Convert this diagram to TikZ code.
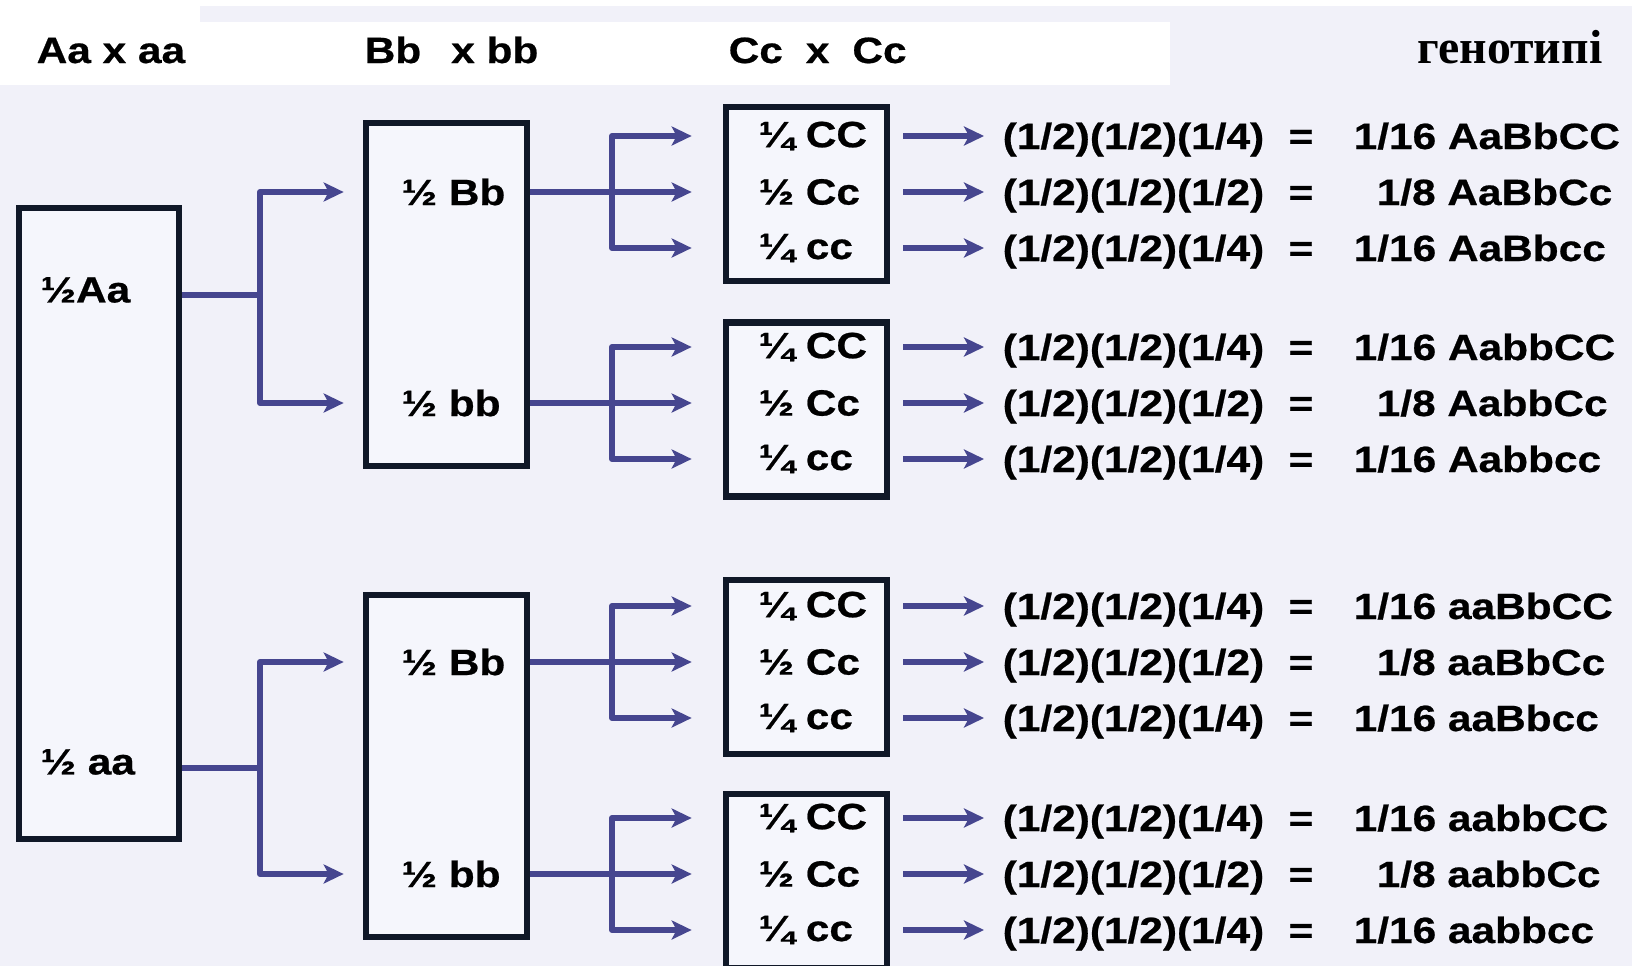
\documentclass[tikz,border=0pt]{standalone}
\usepackage{fontspec}
\usetikzlibrary{arrows.meta,positioning}
\newfontfamily\lab[FakeStretch=1.16,FakeBold=0.6]{Liberation Sans Bold}
\newfontfamily\hdr{Liberation Serif Bold}
\definecolor{paper}{HTML}{F1F1F9}
\definecolor{boxfill}{HTML}{F5F6FC}
\definecolor{boxline}{HTML}{101828}
\definecolor{linkblue}{HTML}{46468F}

\begin{document}
\begin{tikzpicture}[
      x=0.1mm,y=-0.1mm,
      gbox/.style={
        draw=boxline,
        line width=1.9pt,
        fill=boxfill,
        inner sep=0pt
      },
      cbox/.style={gbox,minimum width=16.1mm,minimum height=17.4mm},
      txt/.style={inner sep=0pt,text=black,font=\lab\fontsize{10.4pt}{12pt}\selectfont},
      link/.style={draw=linkblue,line width=1.7pt,line join=round},
      arr/.style={link,-{Stealth[length=2mm,width=1.9mm,inset=0.5mm]}}
    ]
    \useasboundingbox (0,0) rectangle (1632,966);
    \fill[paper] (0,0) rectangle (1632,966);
    \fill[white] (0,0) rectangle (1632,6);
    \fill[white] (0,6) rectangle (200,85);
    \fill[white] (200,22) rectangle (1170,85);

    % header
    \node[txt,anchor=base west] (hA) at (36,63) {Aa x aa};
    \node[txt,anchor=base west] (hB) at (364,63) {Bb\hspace{3mm}x bb};
    \node[txt,anchor=base west] (hC) at (728,63) {Cc\hspace{2.3mm}x\hspace{2.3mm}Cc};
    \node[anchor=base east,inner sep=0pt,font=\hdr\fontsize{13.6pt}{16pt}\selectfont] (hG) at (1603,63) {генотипі};

    % boxes
    \node[gbox,minimum width=16mm,minimum height=63.1mm] (pA) at (99,523.5) {};
    \node[gbox,minimum width=16.1mm,minimum height=34.3mm] (pB1) at (446.5,294.5) {};
    \node[gbox,minimum width=16.1mm,minimum height=34.2mm] (pB2) at (446.5,766) {};
    \node[cbox] (pC1) at (806.5,194) {};
    \node[cbox] (pC2) at (806.5,409.5) {};
    \node[cbox] (pC3) at (806.5,667) {};
    \node[cbox] (pC4) at (806.5,881) {};

    \node[txt,anchor=west] (a1) at (40,290) {½Aa};
    \node[txt,anchor=west] (a2) at (40,762) {½ aa};
    \node[txt,anchor=west] (b1) at (401,192) {½ Bb};
    \node[txt,anchor=west] (b2) at (401,403) {½ bb};
    \node[txt,anchor=west] (b3) at (401,662) {½ Bb};
    \node[txt,anchor=west] (b4) at (401,874) {½ bb};

    \node[txt,anchor=west] (c11) at (758,136) {¼ CC};
    \node[txt,anchor=west] (c12) at (758,192) {½ Cc};
    \node[txt,anchor=west] (c13) at (758,248) {¼ cc};
    \node[txt,anchor=west] (c21) at (758,347) {¼ CC};
    \node[txt,anchor=west] (c22) at (758,403) {½ Cc};
    \node[txt,anchor=west] (c23) at (758,459) {¼ cc};
    \node[txt,anchor=west] (c31) at (758,606) {¼ CC};
    \node[txt,anchor=west] (c32) at (758,662) {½ Cc};
    \node[txt,anchor=west] (c33) at (758,718) {¼ cc};
    \node[txt,anchor=west] (c41) at (758,818) {¼ CC};
    \node[txt,anchor=west] (c42) at (758,874) {½ Cc};
    \node[txt,anchor=west] (c43) at (758,930) {¼ cc};

    % products
    \node[txt,anchor=base west] (f11) at (1002,149) {(1/2)(1/2)(1/4)};
    \node[txt,anchor=base west] (f12) at (1002,205) {(1/2)(1/2)(1/2)};
    \node[txt,anchor=base west] (f13) at (1002,261) {(1/2)(1/2)(1/4)};
    \node[txt,anchor=base west] (f21) at (1002,360) {(1/2)(1/2)(1/4)};
    \node[txt,anchor=base west] (f22) at (1002,416) {(1/2)(1/2)(1/2)};
    \node[txt,anchor=base west] (f23) at (1002,472) {(1/2)(1/2)(1/4)};
    \node[txt,anchor=base west] (f31) at (1002,619) {(1/2)(1/2)(1/4)};
    \node[txt,anchor=base west] (f32) at (1002,675) {(1/2)(1/2)(1/2)};
    \node[txt,anchor=base west] (f33) at (1002,731) {(1/2)(1/2)(1/4)};
    \node[txt,anchor=base west] (f41) at (1002,831) {(1/2)(1/2)(1/4)};
    \node[txt,anchor=base west] (f42) at (1002,887) {(1/2)(1/2)(1/2)};
    \node[txt,anchor=base west] (f43) at (1002,943) {(1/2)(1/2)(1/4)};

    \node[txt,anchor=base] (e11) at (1301,149) {=};
    \node[txt,anchor=base] (e12) at (1301,205) {=};
    \node[txt,anchor=base] (e13) at (1301,261) {=};
    \node[txt,anchor=base] (e21) at (1301,360) {=};
    \node[txt,anchor=base] (e22) at (1301,416) {=};
    \node[txt,anchor=base] (e23) at (1301,472) {=};
    \node[txt,anchor=base] (e31) at (1301,619) {=};
    \node[txt,anchor=base] (e32) at (1301,675) {=};
    \node[txt,anchor=base] (e33) at (1301,731) {=};
    \node[txt,anchor=base] (e41) at (1301,831) {=};
    \node[txt,anchor=base] (e42) at (1301,887) {=};
    \node[txt,anchor=base] (e43) at (1301,943) {=};

    \node[txt,anchor=base west] (r11) at (1353,149) {1/16 AaBbCC};
    \node[txt,anchor=base west] (r12) at (1376,205) {1/8 AaBbCc};
    \node[txt,anchor=base west] (r13) at (1353,261) {1/16 AaBbcc};
    \node[txt,anchor=base west] (r21) at (1353,360) {1/16 AabbCC};
    \node[txt,anchor=base west] (r22) at (1376,416) {1/8 AabbCc};
    \node[txt,anchor=base west] (r23) at (1353,472) {1/16 Aabbcc};
    \node[txt,anchor=base west] (r31) at (1353,619) {1/16 aaBbCC};
    \node[txt,anchor=base west] (r32) at (1376,675) {1/8 aaBbCc};
    \node[txt,anchor=base west] (r33) at (1353,731) {1/16 aaBbcc};
    \node[txt,anchor=base west] (r41) at (1353,831) {1/16 aabbCC};
    \node[txt,anchor=base west] (r42) at (1376,887) {1/8 aabbCc};
    \node[txt,anchor=base west] (r43) at (1353,943) {1/16 aabbcc};

    % branching
    \coordinate (ja1) at (260,295);
    \coordinate (ja2) at (260,768);
    \coordinate (jb1) at (612,192);
    \coordinate (jb2) at (612,403);
    \coordinate (jb3) at (612,662);
    \coordinate (jb4) at (612,874);

    \draw[link] (pA.east |- ja1) -- (ja1);
    \draw[link] (pA.east |- ja2) -- (ja2);
    \draw[arr,shorten >=1.9mm] (ja1) |- (pB1.west |- b1);
    \draw[arr,shorten >=1.9mm] (ja1) |- (pB1.west |- b2);
    \draw[arr,shorten >=1.9mm] (ja2) |- (pB2.west |- b3);
    \draw[arr,shorten >=1.9mm] (ja2) |- (pB2.west |- b4);

    \draw[link] (pB1.east |- b1) -- (jb1);
    \draw[link] (pB1.east |- b2) -- (jb2);
    \draw[link] (pB2.east |- b3) -- (jb3);
    \draw[link] (pB2.east |- b4) -- (jb4);

    \draw[arr,shorten >=3.1mm] (jb1) |- (pC1.west |- c11);
    \draw[arr,shorten >=3.1mm] (jb1) -- (pC1.west |- c12);
    \draw[arr,shorten >=3.1mm] (jb1) |- (pC1.west |- c13);
    \draw[arr,shorten >=3.1mm] (jb2) |- (pC2.west |- c21);
    \draw[arr,shorten >=3.1mm] (jb2) -- (pC2.west |- c22);
    \draw[arr,shorten >=3.1mm] (jb2) |- (pC2.west |- c23);
    \draw[arr,shorten >=3.1mm] (jb3) |- (pC3.west |- c31);
    \draw[arr,shorten >=3.1mm] (jb3) -- (pC3.west |- c32);
    \draw[arr,shorten >=3.1mm] (jb3) |- (pC3.west |- c33);
    \draw[arr,shorten >=3.1mm] (jb4) |- (pC4.west |- c41);
    \draw[arr,shorten >=3.1mm] (jb4) -- (pC4.west |- c42);
    \draw[arr,shorten >=3.1mm] (jb4) |- (pC4.west |- c43);

    % to the products
    \draw[arr,shorten <=1.3mm,shorten >=1.8mm] (pC1.east |- c11) -- (f11.west |- c11);
    \draw[arr,shorten <=1.3mm,shorten >=1.8mm] (pC1.east |- c12) -- (f12.west |- c12);
    \draw[arr,shorten <=1.3mm,shorten >=1.8mm] (pC1.east |- c13) -- (f13.west |- c13);
    \draw[arr,shorten <=1.3mm,shorten >=1.8mm] (pC2.east |- c21) -- (f21.west |- c21);
    \draw[arr,shorten <=1.3mm,shorten >=1.8mm] (pC2.east |- c22) -- (f22.west |- c22);
    \draw[arr,shorten <=1.3mm,shorten >=1.8mm] (pC2.east |- c23) -- (f23.west |- c23);
    \draw[arr,shorten <=1.3mm,shorten >=1.8mm] (pC3.east |- c31) -- (f31.west |- c31);
    \draw[arr,shorten <=1.3mm,shorten >=1.8mm] (pC3.east |- c32) -- (f32.west |- c32);
    \draw[arr,shorten <=1.3mm,shorten >=1.8mm] (pC3.east |- c33) -- (f33.west |- c33);
    \draw[arr,shorten <=1.3mm,shorten >=1.8mm] (pC4.east |- c41) -- (f41.west |- c41);
    \draw[arr,shorten <=1.3mm,shorten >=1.8mm] (pC4.east |- c42) -- (f42.west |- c42);
    \draw[arr,shorten <=1.3mm,shorten >=1.8mm] (pC4.east |- c43) -- (f43.west |- c43);
  \end{tikzpicture}
\end{document}
